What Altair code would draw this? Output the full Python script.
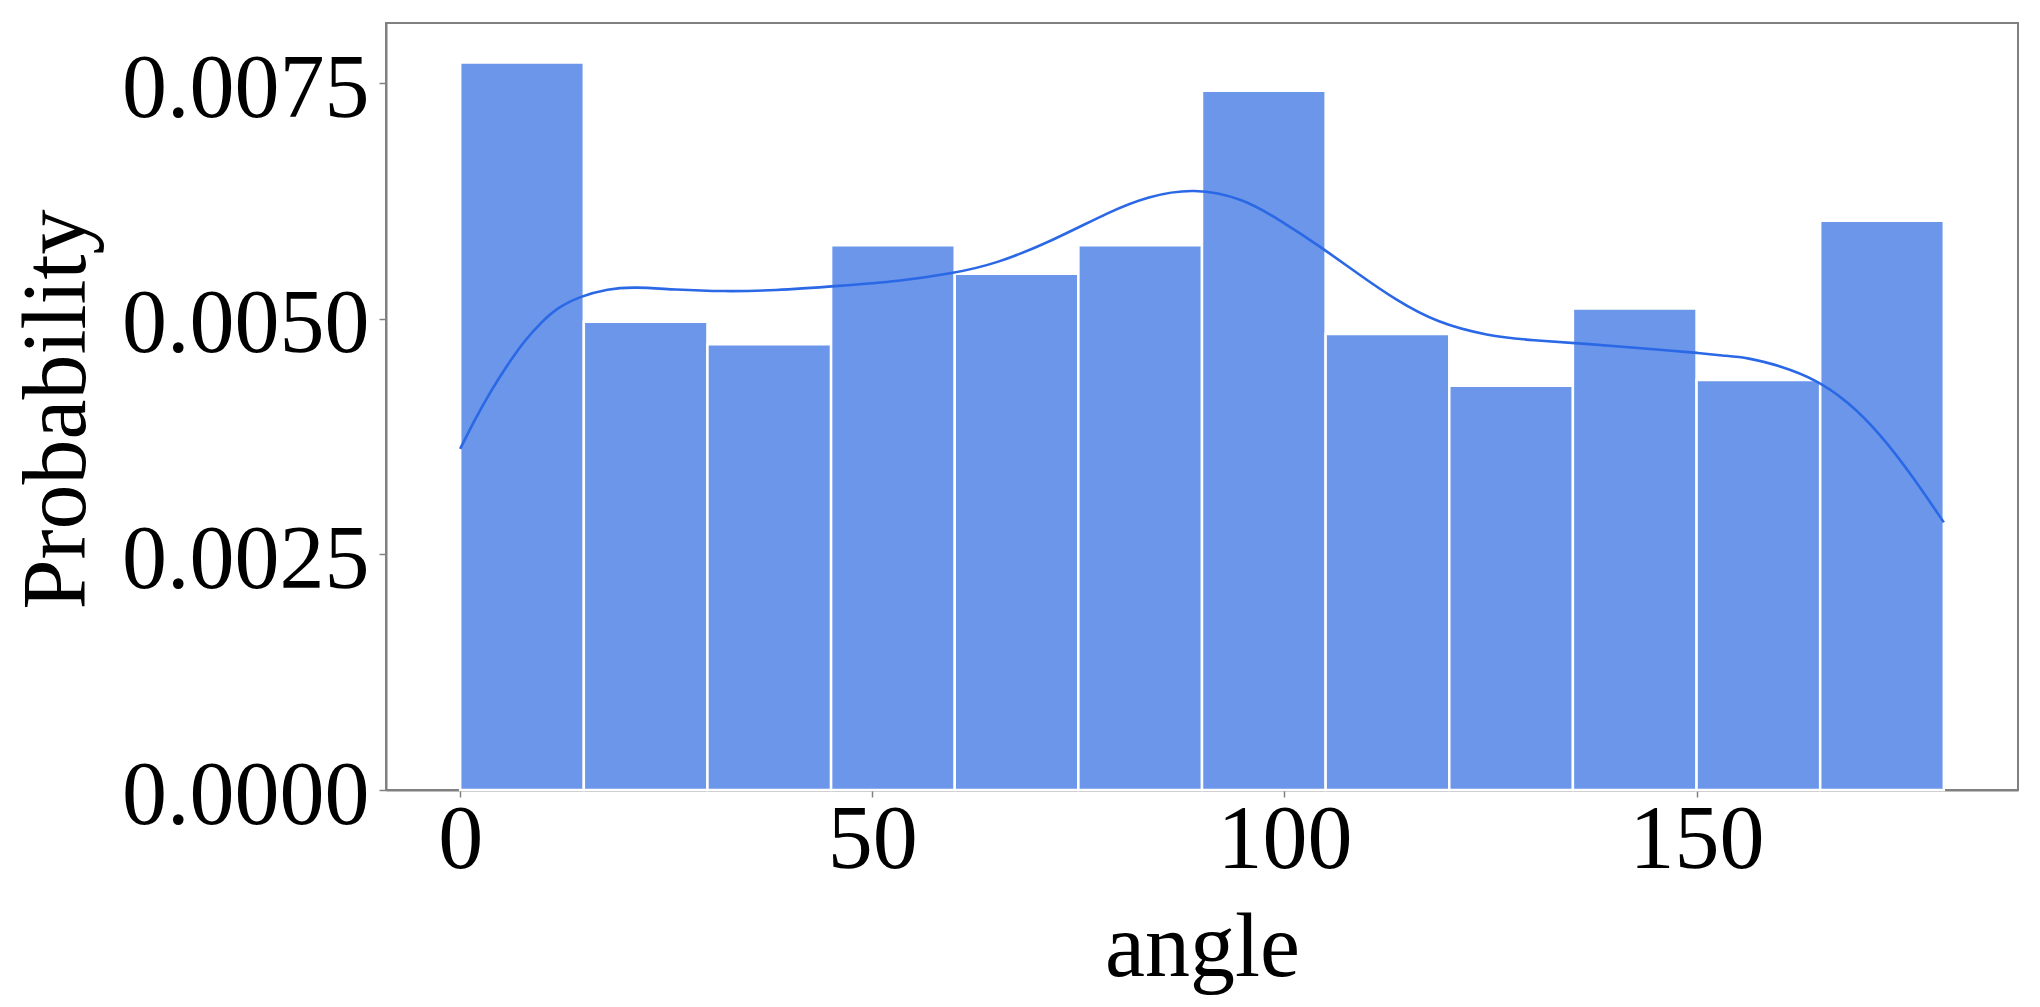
import altair as alt
import pandas as pd

# Histogram bins (width 15 deg) and probability-density heights
bin_start = [0, 15, 30, 45, 60, 75, 90, 105, 120, 135, 150, 165]
bin_end = [15, 30, 45, 60, 75, 90, 105, 120, 135, 150, 165, 180]
density = [0.00772, 0.00497, 0.00473, 0.00578, 0.00548, 0.00578,
           0.00742, 0.00484, 0.00429, 0.00511, 0.00435, 0.00604]

# KDE curve
kde_x = [0, 1.7, 3.75, 5.8, 7.8, 9.8, 11.8, 14.6, 17.9, 21.1, 26, 32, 38, 46,
         53.3, 59.6, 64.9, 71.9, 78.8, 83.4, 89, 95, 99.6, 104.3, 108.9, 113.5,
         118.5, 124.6, 130.3, 136, 147.3, 150.1, 153.1, 156.2, 160.2, 164.4,
         168.3, 172.3, 176.3, 180]
kde_y = [0.00362, 0.00392, 0.00424, 0.00452, 0.00477, 0.00496, 0.00512, 0.00524,
         0.00532, 0.00534, 0.00531, 0.00529, 0.00530, 0.00535, 0.00540, 0.00548,
         0.00558, 0.00583, 0.00614, 0.00630, 0.00639, 0.00628, 0.00604, 0.00577,
         0.00548, 0.00520, 0.00496, 0.00482, 0.00477, 0.00474, 0.00466, 0.00464,
         0.00461, 0.00459, 0.00450, 0.00436, 0.00413, 0.00378, 0.00332, 0.00284]

x_ticks = [0, 50, 100, 150]
y_ticks = [0, 0.0025, 0.005, 0.0075]

bars_df = pd.DataFrame({"start": bin_start, "end": bin_end, "density": density})
kde_df = pd.DataFrame({"angle": kde_x, "density": kde_y})

FONT = "Liberation Serif"
GREY = "#808080"

x_scale = alt.Scale(domain=[-9, 189], nice=False, zero=False)
y_scale = alt.Scale(domain=[0, 0.00814], nice=False)

x_axis = alt.Axis(
    title="angle", values=x_ticks, format="d", grid=False,
    labelFont=FONT, labelFontSize=90, labelColor="black", labelLimit=1000,
    labelBaseline="alphabetic", labelPadding=70, labelFlush=False, labelOverlap=False,
    tickSize=7, tickColor=GREY, tickWidth=1.5,
    domainColor=GREY, domainWidth=2,
    titleFont=FONT, titleFontSize=90, titleFontWeight="normal", titleColor="black",
    titleBaseline="alphabetic", titleAlign="center", titleX=816, titleY=185,
    titleLimit=2000,
)
y_axis = alt.Axis(
    title="Probability", values=y_ticks, format=".4f", grid=False,
    labelFont=FONT, labelFontSize=90, labelColor="black", labelLimit=1000,
    labelBaseline="alphabetic", labelOffset=33, labelPadding=10,
    labelFlush=False, labelOverlap=False,
    tickSize=7, tickColor=GREY, tickWidth=1.5,
    domainColor=GREY, domainWidth=2,
    titleFont=FONT, titleFontSize=90, titleFontWeight="normal", titleColor="black",
    titleBaseline="alphabetic", titleAlign="center", titleAngle=270,
    titleX=-302, titleY=386, titleLimit=2000,
)

bars = alt.Chart(bars_df).mark_rect(
    color="#6b96ea", stroke="white", strokeWidth=2.5
).encode(
    x=alt.X("start:Q", scale=x_scale, axis=x_axis),
    x2="end:Q",
    y=alt.Y("density:Q", scale=y_scale, axis=y_axis),
    y2=alt.datum(0),
)

line = alt.Chart(kde_df).mark_line(
    color="#2a68e6", strokeWidth=2.6, interpolate="basis"
).encode(
    x=alt.X("angle:Q", scale=x_scale),
    y=alt.Y("density:Q", scale=y_scale),
)

chart = alt.layer(bars, line).properties(
    width=1632, height=767,
    autosize=alt.AutoSizeParams(type="none"),
    padding={"left": 378, "top": 15, "right": 14, "bottom": 209},
    background="white",
).configure_view(
    stroke=GREY, strokeWidth=2, fill="white"
)

chart.save("out.html", embed_options={"renderer": "svg", "actions": False})
